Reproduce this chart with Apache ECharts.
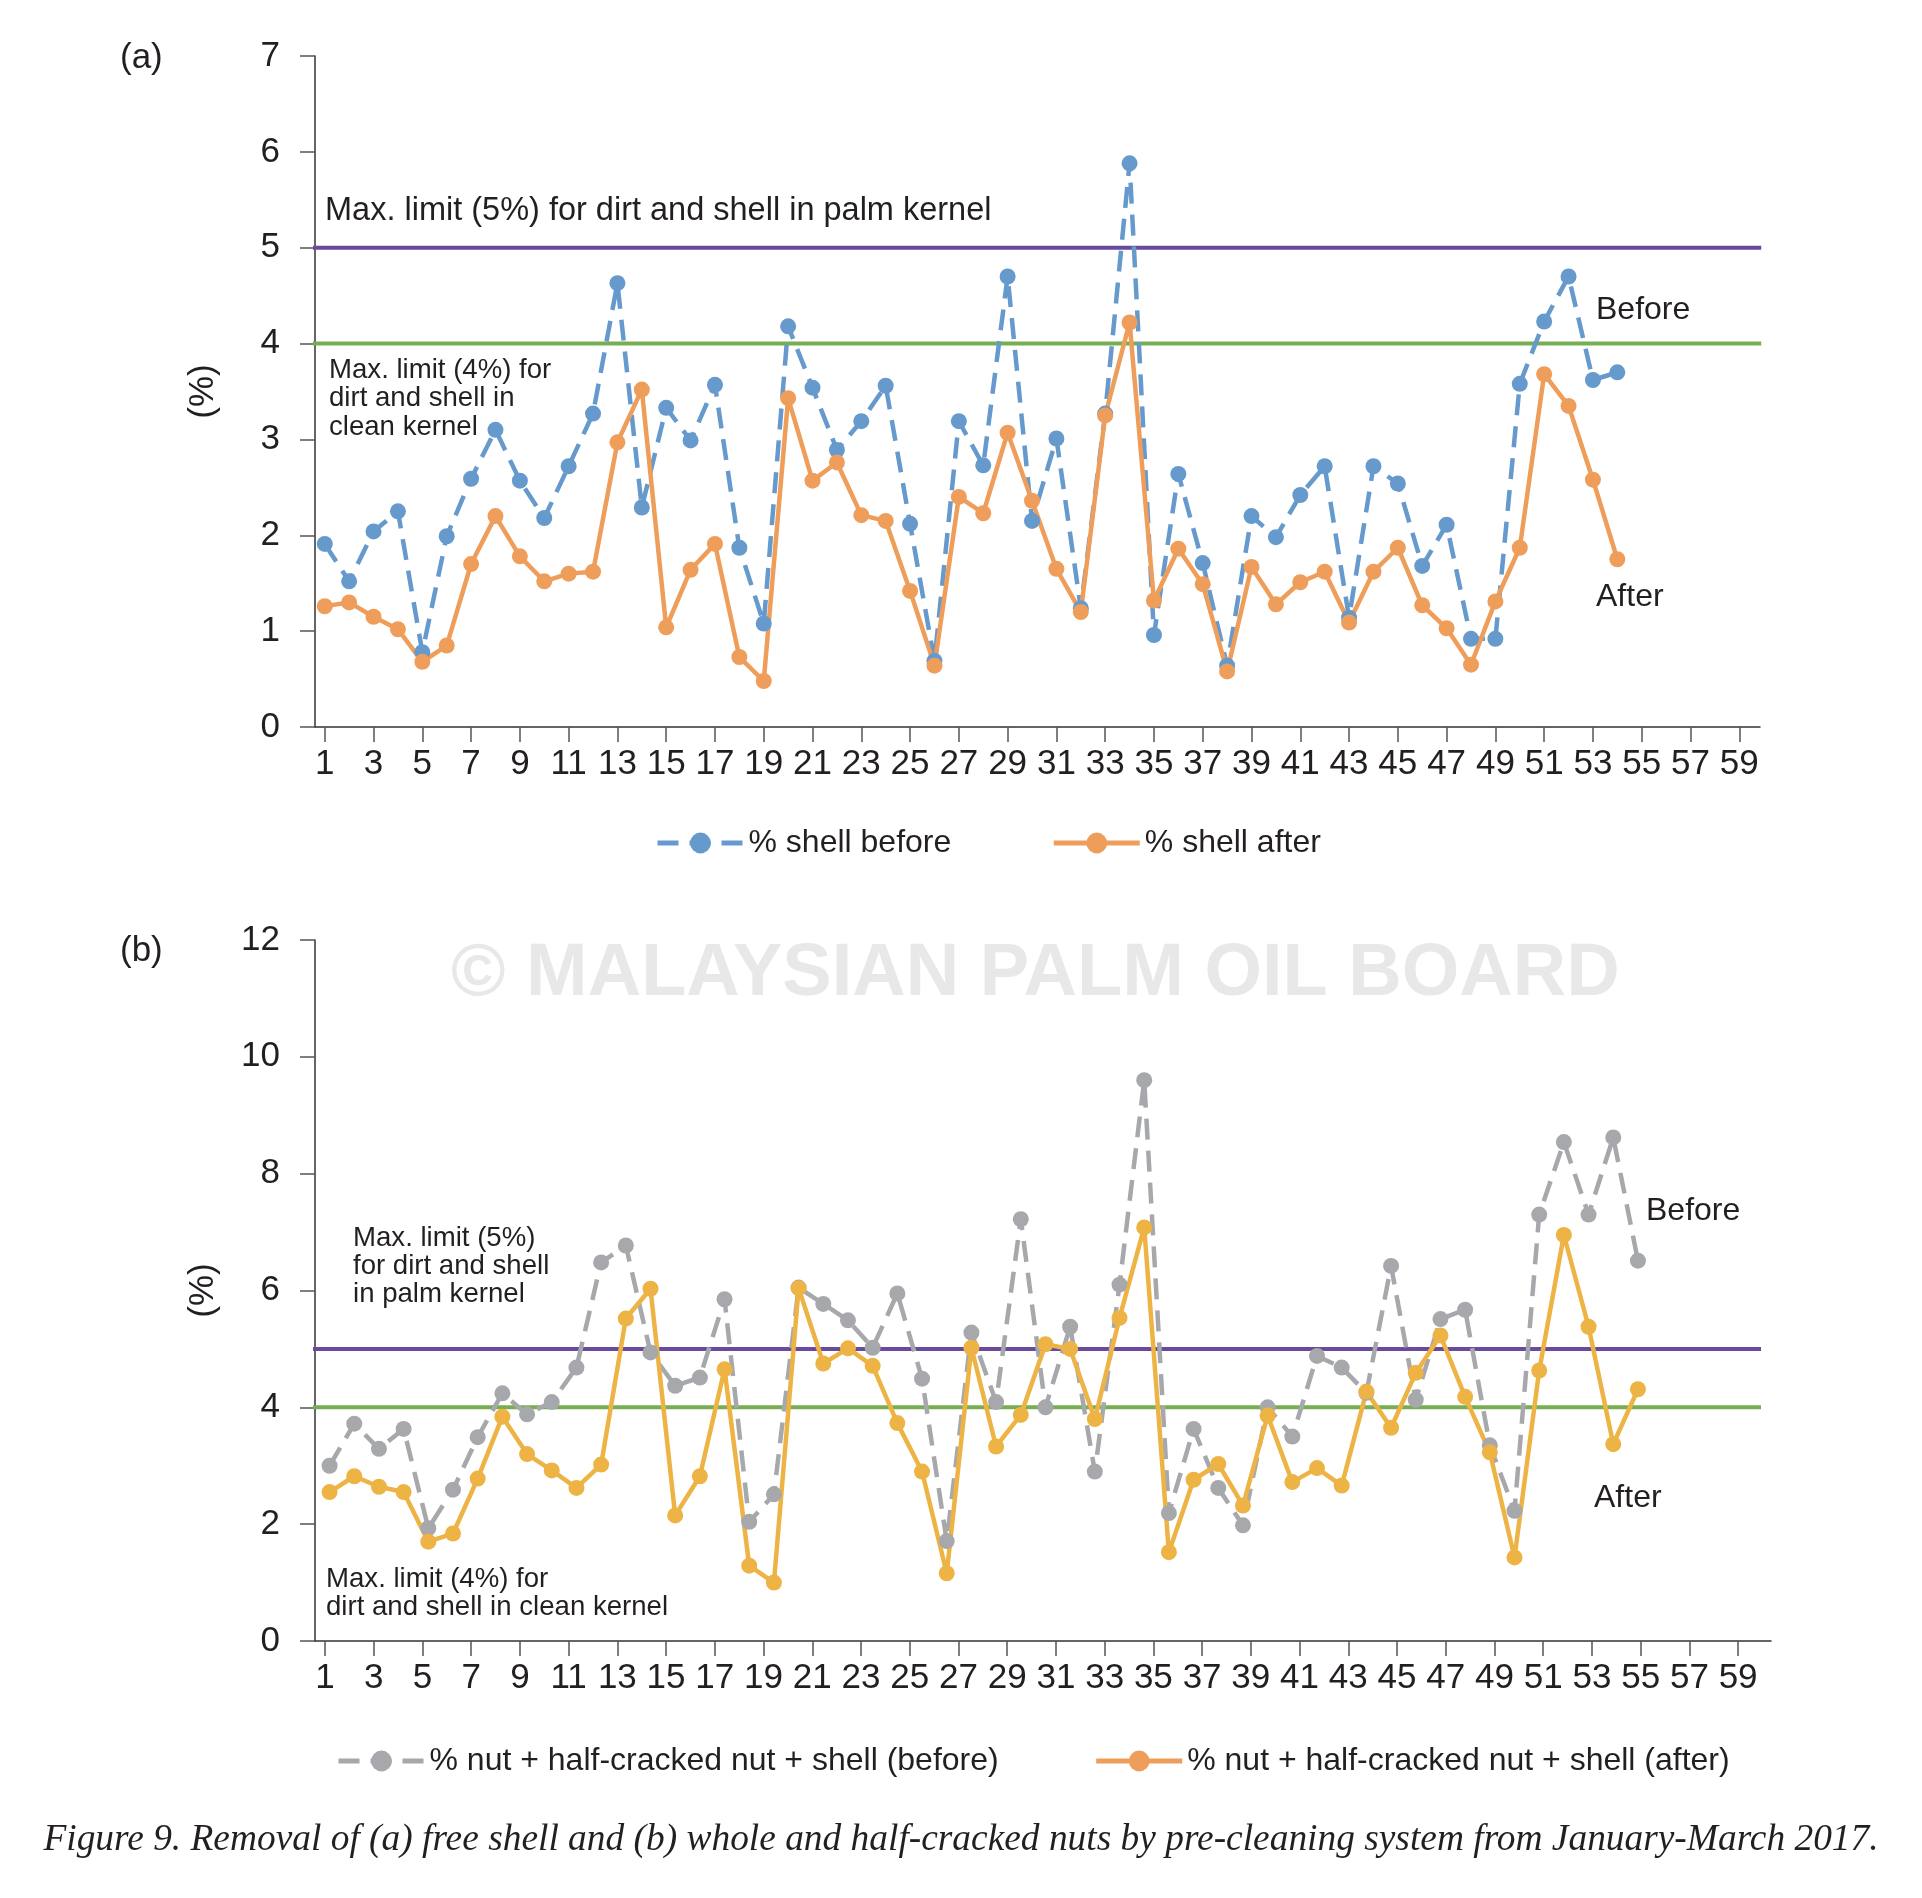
<!DOCTYPE html>
<html>
<head>
<meta charset="utf-8">
<title>Figure 9</title>
<script src="https://cdn.jsdelivr.net/npm/echarts@6/dist/echarts.min.js"></script>
<style>
    html, body { margin: 0; padding: 0; background: #fff; }
    #main { width: 1922px; height: 1898px; }
</style>
</head>
<body>
<div id="main"></div>
<script>
// sample number (January-March 2017)
var days = [1, 2, 3, 4, 5, 6, 7, 8, 9, 10, 11, 12, 13, 14, 15, 16, 17, 18, 19, 20,
    21, 22, 23, 24, 25, 26, 27, 28, 29, 30, 31, 32, 33, 34, 35, 36, 37, 38, 39, 40,
    41, 42, 43, 44, 45, 46, 47, 48, 49, 50, 51, 52, 53, 54];
var xTicks = [1, 3, 5, 7, 9, 11, 13, 15, 17, 19, 21, 23, 25, 27, 29, 31, 33, 35, 37, 39,
    41, 43, 45, 47, 49, 51, 53, 55, 57, 59];

// (a) free shell, %
var shellBefore = [1.91, 1.52, 2.04, 2.25, 0.78, 1.99, 2.59, 3.10, 2.57, 2.18,
    2.72, 3.27, 4.63, 2.29, 3.33, 2.99, 3.57, 1.87, 1.08, 4.18,
    3.54, 2.89, 3.19, 3.56, 2.12, 0.69, 3.19, 2.73, 4.70, 2.15,
    3.01, 1.24, 3.27, 5.88, 0.96, 2.64, 1.71, 0.64, 2.20, 1.98,
    2.42, 2.72, 1.14, 2.72, 2.54, 1.68, 2.11, 0.92, 0.92, 3.58,
    4.23, 4.70, 3.62, 3.70];
var shellAfter = [1.26, 1.30, 1.15, 1.02, 0.68, 0.85, 1.70, 2.20, 1.78, 1.52,
    1.60, 1.62, 2.97, 3.52, 1.04, 1.64, 1.91, 0.73, 0.48, 3.43,
    2.57, 2.76, 2.21, 2.15, 1.42, 0.64, 2.40, 2.23, 3.07, 2.36,
    1.65, 1.20, 3.25, 4.22, 1.32, 1.86, 1.49, 0.58, 1.67, 1.28,
    1.51, 1.62, 1.09, 1.62, 1.87, 1.27, 1.03, 0.65, 1.31, 1.87,
    3.68, 3.35, 2.58, 1.75];

// (b) whole and half-cracked nuts + shell, %
var nutBefore = [3.00, 3.72, 3.29, 3.63, 1.93, 2.59, 3.49, 4.24, 3.88, 4.09,
    4.68, 6.48, 6.77, 4.94, 4.37, 4.51, 5.85, 2.04, 2.51, 6.05,
    5.77, 5.49, 5.02, 5.95, 4.49, 1.71, 5.28, 4.09, 7.22, 4.00,
    5.38, 2.90, 6.10, 9.60, 2.19, 3.63, 2.62, 1.98, 4.00, 3.50,
    4.88, 4.68, 4.25, 6.42, 4.13, 5.51, 5.67, 3.35, 2.23, 7.30,
    8.54, 7.30, 8.62, 6.51];
var nutAfter = [2.55, 2.82, 2.64, 2.55, 1.70, 1.84, 2.78, 3.84, 3.20, 2.92,
    2.62, 3.02, 5.52, 6.03, 2.15, 2.82, 4.65, 1.29, 1.00, 6.04,
    4.75, 5.01, 4.71, 3.73, 2.90, 1.16, 5.02, 3.33, 3.87, 5.08,
    5.00, 3.80, 5.53, 7.08, 1.52, 2.76, 3.03, 2.32, 3.86, 2.72,
    2.96, 2.66, 4.27, 3.65, 4.59, 5.23, 4.18, 3.23, 1.43, 4.63,
    6.95, 5.38, 3.37, 4.31];

// limits
var limitPalmKernel = 5;
var limitCleanKernel = 4;

var bootstrap = function () {
    "use strict";

    var FONT = "'Liberation Sans', Arial, Helvetica, sans-serif";
    var INK = '#231f20';
    var BLUE = '#6699cc', ORANGE = '#ee9e5a', GREY = '#a7a8ab', GOLD = '#edb445';
    var PURPLE = '#6a4a9c', GREEN = '#78ae52';

    var page = {
        init: function () {
            var myChart = echarts.init(document.getElementById('main'), null, { renderer: 'canvas' });
            myChart.setOption(page.option());
        },
        pairs: function (vals) {
            return days.map(function (d, i) { return [d, vals[i]]; });
        },
        xAxis: function (grid, min, max, show) {
            return {
                type: 'value', gridIndex: grid, min: min, max: max, show: show,
                axisLine: { show: true, onZero: false, lineStyle: { color: '#333', width: 1.5 } },
                axisTick: { show: true, length: 15, customValues: xTicks, lineStyle: { color: '#555', width: 1.5 } },
                axisLabel: { customValues: xTicks, margin: 20, fontSize: 35, color: INK, fontFamily: FONT },
                splitLine: { show: false }
            };
        },
        yAxis: function (grid, max, step) {
            return {
                type: 'value', gridIndex: grid, min: 0, max: max, interval: step,
                name: '(%)', nameLocation: 'middle', nameRotate: 90, nameGap: 94,
                nameTextStyle: { fontSize: 35, color: INK, fontFamily: FONT },
                axisLine: { show: true, lineStyle: { color: '#333', width: 1.5 } },
                axisTick: { show: true, length: 15, lineStyle: { color: '#555', width: 1.5 } },
                axisLabel: { margin: 35, fontSize: 35, color: INK, fontFamily: FONT },
                splitLine: { show: false }
            };
        },
        limit: function (value, color, xi, yi, span) {
            return {
                type: 'line', xAxisIndex: xi, yAxisIndex: yi, clip: false, silent: true,
                symbol: 'none', z: 1,
                lineStyle: { color: color, width: 4 },
                data: [[span[0], value], [span[1], value]]
            };
        },
        data: function (name, vals, color, dashed, xi, yi) {
            return {
                name: name, type: 'line', xAxisIndex: xi, yAxisIndex: yi, z: 3,
                symbol: 'circle', symbolSize: 16,
                itemStyle: { color: color },
                lineStyle: { color: color, width: 4.5, type: dashed ? [21, 11] : 'solid' },
                data: page.pairs(vals)
            };
        },
        text: function (x, y, str, size, extra) {
            var t = {
                type: 'text', left: x, top: y, z: 10, silent: true,
                style: { text: str, fontSize: size, fontFamily: FONT, fill: INK, lineHeight: Math.round(size * 1.04) }
            };
            if (extra) { for (var k in extra) { t.style[k] = extra[k]; } }
            return t;
        },
        option: function () {
            var legendText = { fontSize: 32, color: INK, fontFamily: FONT };
            return {
                animation: false,
                backgroundColor: '#fff',
                grid: [
                    { left: 315, top: 56, width: 1445, height: 671 },
                    { left: 315, top: 940, width: 1456, height: 701 }
                ],
                xAxis: [
                    page.xAxis(0, 0.6, 59.85, true),
                    page.xAxis(1, 0.59, 60.35, true),
                    page.xAxis(1, 0.41, 59.39, false)   // data axis for (b)
                ],
                yAxis: [
                    page.yAxis(0, 7, 1),
                    page.yAxis(1, 12, 2)
                ],
                legend: [
                    {
                        left: 650, top: 822, itemWidth: 86, itemHeight: 26, itemGap: 100,
                        lineStyle: { width: 5 },
                        textStyle: legendText,
                        data: ['% shell before', '% shell after']
                    },
                    {
                        left: 331, top: 1740, itemWidth: 86, itemHeight: 26, itemGap: 95,
                        lineStyle: { width: 5 },
                        textStyle: legendText,
                        data: ['% nut + half-cracked nut + shell (before)',
                            { name: '% nut + half-cracked nut + shell (after)', itemStyle: { color: ORANGE }, lineStyle: { color: ORANGE } }]
                    }
                ],
                graphic: [
                    // watermark
                    {
                        type: 'text', left: 451, top: 938, z: 0, silent: true,
                        style: { text: '\u00a9 MALAYSIAN PALM OIL BOARD', fontSize: 74, fontWeight: 'bold', fontFamily: FONT, fill: '#e8e8e8' }
                    },
                    page.text(120, 40, '(a)', 35),
                    page.text(120, 933, '(b)', 35),
                    page.text(325, 194, 'Max. limit (5%) for dirt and shell in palm kernel', 32.5),
                    page.text(329, 356, 'Max. limit (4%) for\ndirt and shell in\nclean kernel', 27.6, { lineHeight: 28.5 }),
                    page.text(1596, 294, 'Before', 32),
                    page.text(1596, 581, 'After', 32),
                    page.text(353, 1224, 'Max. limit (5%)\nfor dirt and shell\nin palm kernel', 27.6, { lineHeight: 28 }),
                    page.text(326, 1565, 'Max. limit (4%) for\ndirt and shell in clean kernel', 27.6, { lineHeight: 28 }),
                    page.text(1646, 1195, 'Before', 32),
                    page.text(1594, 1482, 'After', 32),
                    {
                        type: 'text', left: 'center', top: 1822, z: 10, silent: true,
                        style: {
                            text: 'Figure 9. Removal of (a) free shell and (b) whole and half-cracked nuts by pre-cleaning system from January-March 2017.',
                            fontSize: 37.4, fontStyle: 'italic', fontFamily: "'Liberation Serif', 'DejaVu Serif', serif", fill: INK
                        }
                    }
                ],
                series: [
                    page.limit(limitPalmKernel, PURPLE, 0, 0, [-0.5, 59.9]),
                    page.limit(limitCleanKernel, GREEN, 0, 0, [-0.5, 59.9]),
                    page.data('% shell before', shellBefore, BLUE, true, 0, 0),
                    page.data('% shell after', shellAfter, ORANGE, false, 0, 0),
                    page.limit(limitPalmKernel, PURPLE, 1, 1, [-0.52, 59.94]),
                    page.limit(limitCleanKernel, GREEN, 1, 1, [-0.52, 59.94]),
                    page.data('% nut + half-cracked nut + shell (before)', nutBefore, GREY, true, 2, 1),
                    page.data('% nut + half-cracked nut + shell (after)', nutAfter, GOLD, false, 2, 1)
                ]
            };
        }
    };
    page.init();
};
bootstrap();
</script>
</body>
</html>
